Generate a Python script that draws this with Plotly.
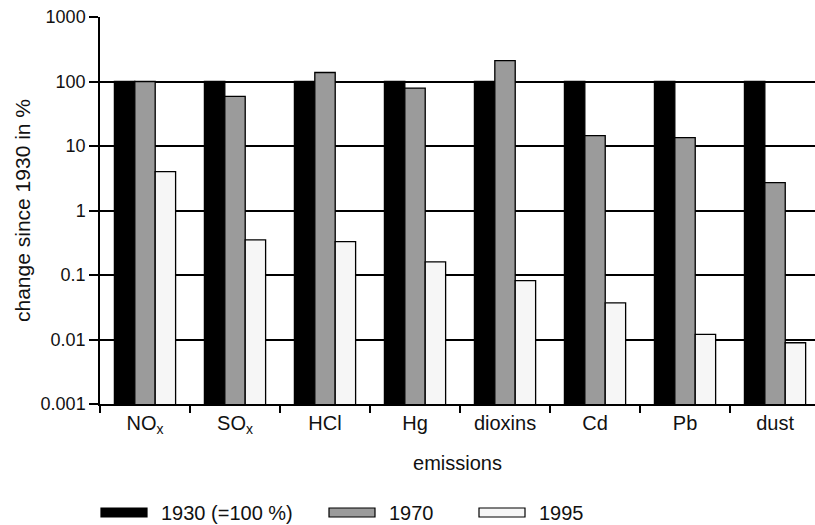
import plotly.graph_objects as go

categories = ["NO<sub>x</sub>", "SO<sub>x</sub>", "HCl", "Hg", "dioxins", "Cd", "Pb", "dust"]
series_names = ["1930 (=100 %)", "1970", "1995"]
values_1930 = [100, 100, 100, 100, 100, 100, 100, 100]
values_1970 = [100, 59, 138, 79, 210, 14.5, 13.5, 2.7]
values_1995 = [4.0, 0.35, 0.33, 0.16, 0.082, 0.037, 0.012, 0.0089]
y_tick_vals = [0.001, 0.01, 0.1, 1, 10, 100, 1000]
y_tick_text = ["0.001", "0.01", "0.1", "1", "10", "100", "1000"]

FONT = "Liberation Sans, Arial, sans-serif"
colors = ["#000000", "#9b9b9b", "#f6f6f6"]
series = [values_1930, values_1970, values_1995]

W, H = 815, 525
ML, MR, MT, MB = 100, 0, 17, 121
PW, PH = W - ML - MR, H - MT - MB

def px(xp):
    return (xp - ML) / PW

def py(yp):
    return (H - MB - yp) / PH

fig = go.Figure()
for name, vals, col in zip(series_names, series, colors):
    fig.add_trace(go.Bar(
        x=categories, y=vals, name=name,
        marker=dict(color=col, line=dict(color="#000000", width=1.3)),
    ))

# custom legend (wide swatches as in the reference)
legend_swatch_left = [101, 329, 479]
for name, col, sx in zip(series_names, colors, legend_swatch_left):
    fig.add_shape(type="rect", xref="paper", yref="paper",
                  x0=px(sx), x1=px(sx + 46), y0=py(517), y1=py(508),
                  fillcolor=col, line=dict(color="#000000", width=1.2))
    fig.add_annotation(x=px(sx + 58), y=py(513), xref="paper", yref="paper",
                       text=name, showarrow=False, xanchor="left", yanchor="middle",
                       font=dict(family=FONT, size=20, color="#111111"))

fig.update_layout(
    width=W, height=H,
    margin=dict(l=ML, r=MR, t=MT, b=MB),
    paper_bgcolor="white", plot_bgcolor="white",
    barmode="group", bargap=0.32, bargroupgap=0,
    font=dict(family=FONT, color="#111111", size=18),
    showlegend=False,
    xaxis=dict(
        range=[-0.5, 7.444], showline=True, linecolor="#000000", linewidth=1.5,
        ticks="outside", tickson="boundaries", ticklen=7, tickwidth=1.5, tickcolor="#000000",
        tickfont=dict(family=FONT, size=20, color="#111111"),
        title=dict(text="emissions", font=dict(family=FONT, size=20, color="#111111"), standoff=20),
        showgrid=False, zeroline=False, fixedrange=True,
    ),
    yaxis=dict(
        type="log", range=[-3, 3], showline=True, linecolor="#000000", linewidth=1.5,
        ticks="outside", ticklen=9, tickwidth=1.5, tickcolor="#000000",
        tickvals=y_tick_vals, ticktext=y_tick_text,
        tickfont=dict(family=FONT, size=18, color="#111111"),
        title=dict(text="change since 1930 in %", font=dict(family=FONT, size=21, color="#111111"), standoff=4),
        showgrid=True, gridcolor="#000000", gridwidth=1.5, zeroline=False, fixedrange=True,
    ),
)

fig.write_html("out.html")
